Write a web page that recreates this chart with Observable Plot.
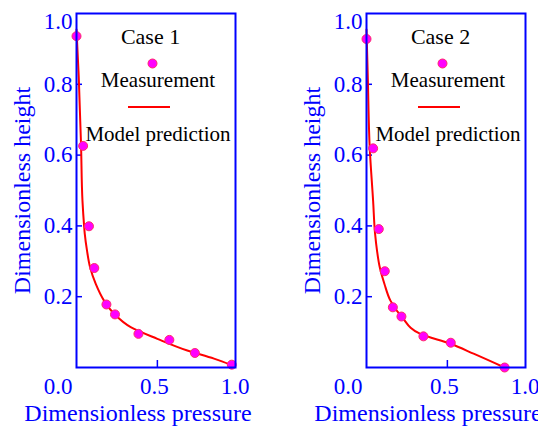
<!DOCTYPE html>
<html>
<head>
<meta charset="utf-8">
<script src="https://cdn.jsdelivr.net/npm/d3@7"></script>
<script src="https://cdn.jsdelivr.net/npm/@observablehq/plot@0.6"></script>
<style>
  html, body { margin: 0; padding: 0; background: #ffffff; }
  #chart { display: flex; width: 538px; height: 431px; overflow: hidden; }
  #chart svg { display: block; }
</style>
</head>
<body>
<div id="chart"></div>
<script>
// Case 1: measured points
const case1Pressure = [0.0, 0.041, 0.077, 0.110, 0.185, 0.238, 0.383, 0.574, 0.732, 0.960];
const case1Height   = [0.936, 0.626, 0.399, 0.281, 0.178, 0.150, 0.095, 0.078, 0.041, 0.008];
// Case 1: model prediction
const case1ModelPressure = [0.0, 0.014, 0.028, 0.037, 0.047, 0.051, 0.065, 0.084, 0.119, 0.170, 0.232, 0.335, 0.500, 0.685, 0.850, 0.963];
const case1ModelHeight   = [0.955, 0.82, 0.63, 0.47, 0.40, 0.378, 0.33, 0.283, 0.236, 0.189, 0.152, 0.114, 0.081, 0.048, 0.025, 0.006];

// Case 2: measured points
const case2Pressure = [0.0, 0.041, 0.076, 0.113, 0.163, 0.216, 0.352, 0.521, 0.854];
const case2Height   = [0.928, 0.619, 0.391, 0.272, 0.170, 0.144, 0.088, 0.070, 0.0];
// Case 2: model prediction
const case2ModelPressure = [0.0, 0.008, 0.020, 0.041, 0.053, 0.065, 0.082, 0.111, 0.148, 0.220, 0.333, 0.519, 0.662, 0.853];
const case2ModelHeight   = [0.955, 0.82, 0.62, 0.47, 0.378, 0.33, 0.283, 0.236, 0.189, 0.142, 0.095, 0.067, 0.039, 0.0];

// Axes
const yTicks = [0.2, 0.4, 0.6, 0.8];
const yTickLabels = [0.2, 0.4, 0.6, 0.8];
const yTopLabel = [1.0];
const xTicks = [0.5];
const xTickLabels = [0.5, 1.0];
const xOriginLabel = [0.0];
const xTitle = "Dimensionless pressure";
const yTitle = "Dimensionless height";
const legendMeasurement = "Measurement";
const legendModel = "Model prediction";

const BLUE = "#0000ff";
const RED = "#ff0000";
const MAGENTA = "#ff00ff";
const FONT = "Liberation Serif";

function toRows(xs, ys) {
  return xs.map((x, i) => ({x, y: ys[i]}));
}

function panel({title, points, model, width, marginRight}) {
  const frameLeft = 76;
  const txt = {fontFamily: FONT, lineAnchor: "middle"};
  return Plot.plot({
    width,
    height: 431,
    marginLeft: frameLeft,
    marginRight,
    marginTop: 13,
    marginBottom: 64,
    x: {domain: [0, 0.983], axis: null},
    y: {domain: [0, 1], axis: null},
    style: {fontFamily: FONT, overflow: "visible", background: "transparent"},
    marks: [
      // inward ticks
      Plot.tickY(yTicks, {y: d => d, stroke: BLUE, strokeWidth: 1.5, insetRight: width - frameLeft - marginRight - 6}),
      Plot.tickX(xTicks, {x: d => d, stroke: BLUE, strokeWidth: 1.5, insetTop: 431 - 13 - 64 - 7}),
      // tick labels
      Plot.text(yTickLabels, {...txt, y: d => d, text: d => d.toFixed(1), frameAnchor: "left", textAnchor: "end", dx: -4, fill: BLUE, fontSize: 23}),
      Plot.text(yTopLabel, {...txt, y: d => d, text: d => d.toFixed(1), frameAnchor: "left", textAnchor: "end", dx: -4, dy: 8, fill: BLUE, fontSize: 23}),
      Plot.text(xTickLabels, {...txt, x: d => d, text: d => d.toFixed(1), frameAnchor: "bottom", textAnchor: "middle", dx: -3, dy: 19, fill: BLUE, fontSize: 23}),
      Plot.text(xOriginLabel, {...txt, x: d => d, text: d => d.toFixed(1), frameAnchor: "bottom", textAnchor: "end", dx: -4, dy: 19, fill: BLUE, fontSize: 23}),
      // axis titles
      Plot.text([xTitle], {...txt, text: d => d, frameAnchor: "bottom", textAnchor: "middle", dx: -18, dy: 46, fill: BLUE, fontSize: 24}),
      Plot.text([yTitle], {...txt, text: d => d, frameAnchor: "left", textAnchor: "middle", rotate: -90, dx: -54, fill: BLUE, fontSize: 24}),
      // legend
      Plot.text([title], {...txt, text: d => d, frameAnchor: "top-left", textAnchor: "middle", dx: 74, dy: 23, fill: "#000", fontSize: 22}),
      Plot.dot([title], {frameAnchor: "top-left", dx: 76, dy: 50, r: 4.5, fill: MAGENTA, stroke: "#ff2a6a", strokeWidth: 1}),
      Plot.text([legendMeasurement], {...txt, text: d => d, frameAnchor: "top-left", textAnchor: "middle", dx: 81.5, dy: 67, fill: "#000", fontSize: 21}),
      (index, scales, values, dimensions) => {
        const y = dimensions.marginTop + 94;
        return d3.create("svg:line")
          .attr("x1", dimensions.marginLeft + 52)
          .attr("x2", dimensions.marginLeft + 94)
          .attr("y1", y)
          .attr("y2", y)
          .attr("stroke", RED)
          .attr("stroke-width", 2)
          .node();
      },
      Plot.text([legendModel], {...txt, text: d => d, frameAnchor: "top-left", textAnchor: "middle", dx: 81.5, dy: 121, fill: "#000", fontSize: 21}),
      // data
      Plot.line(model, {x: "x", y: "y", stroke: RED, strokeWidth: 2, curve: "monotone-y"}),
      Plot.dot(points, {x: "x", y: "y", r: 4.5, fill: MAGENTA, stroke: "#ff2a6a", strokeWidth: 1}),
      Plot.frame({stroke: BLUE, strokeWidth: 2})
    ]
  });
}

const chart = document.getElementById("chart");
chart.append(panel({
  title: "Case 1",
  points: toRows(case1Pressure, case1Height),
  model: toRows(case1ModelPressure, case1ModelHeight),
  width: 290,
  marginRight: 55
}));
chart.append(panel({
  title: "Case 2",
  points: toRows(case2Pressure, case2Height),
  model: toRows(case2ModelPressure, case2ModelHeight),
  width: 248,
  marginRight: 13
}));
</script>
</body>
</html>
